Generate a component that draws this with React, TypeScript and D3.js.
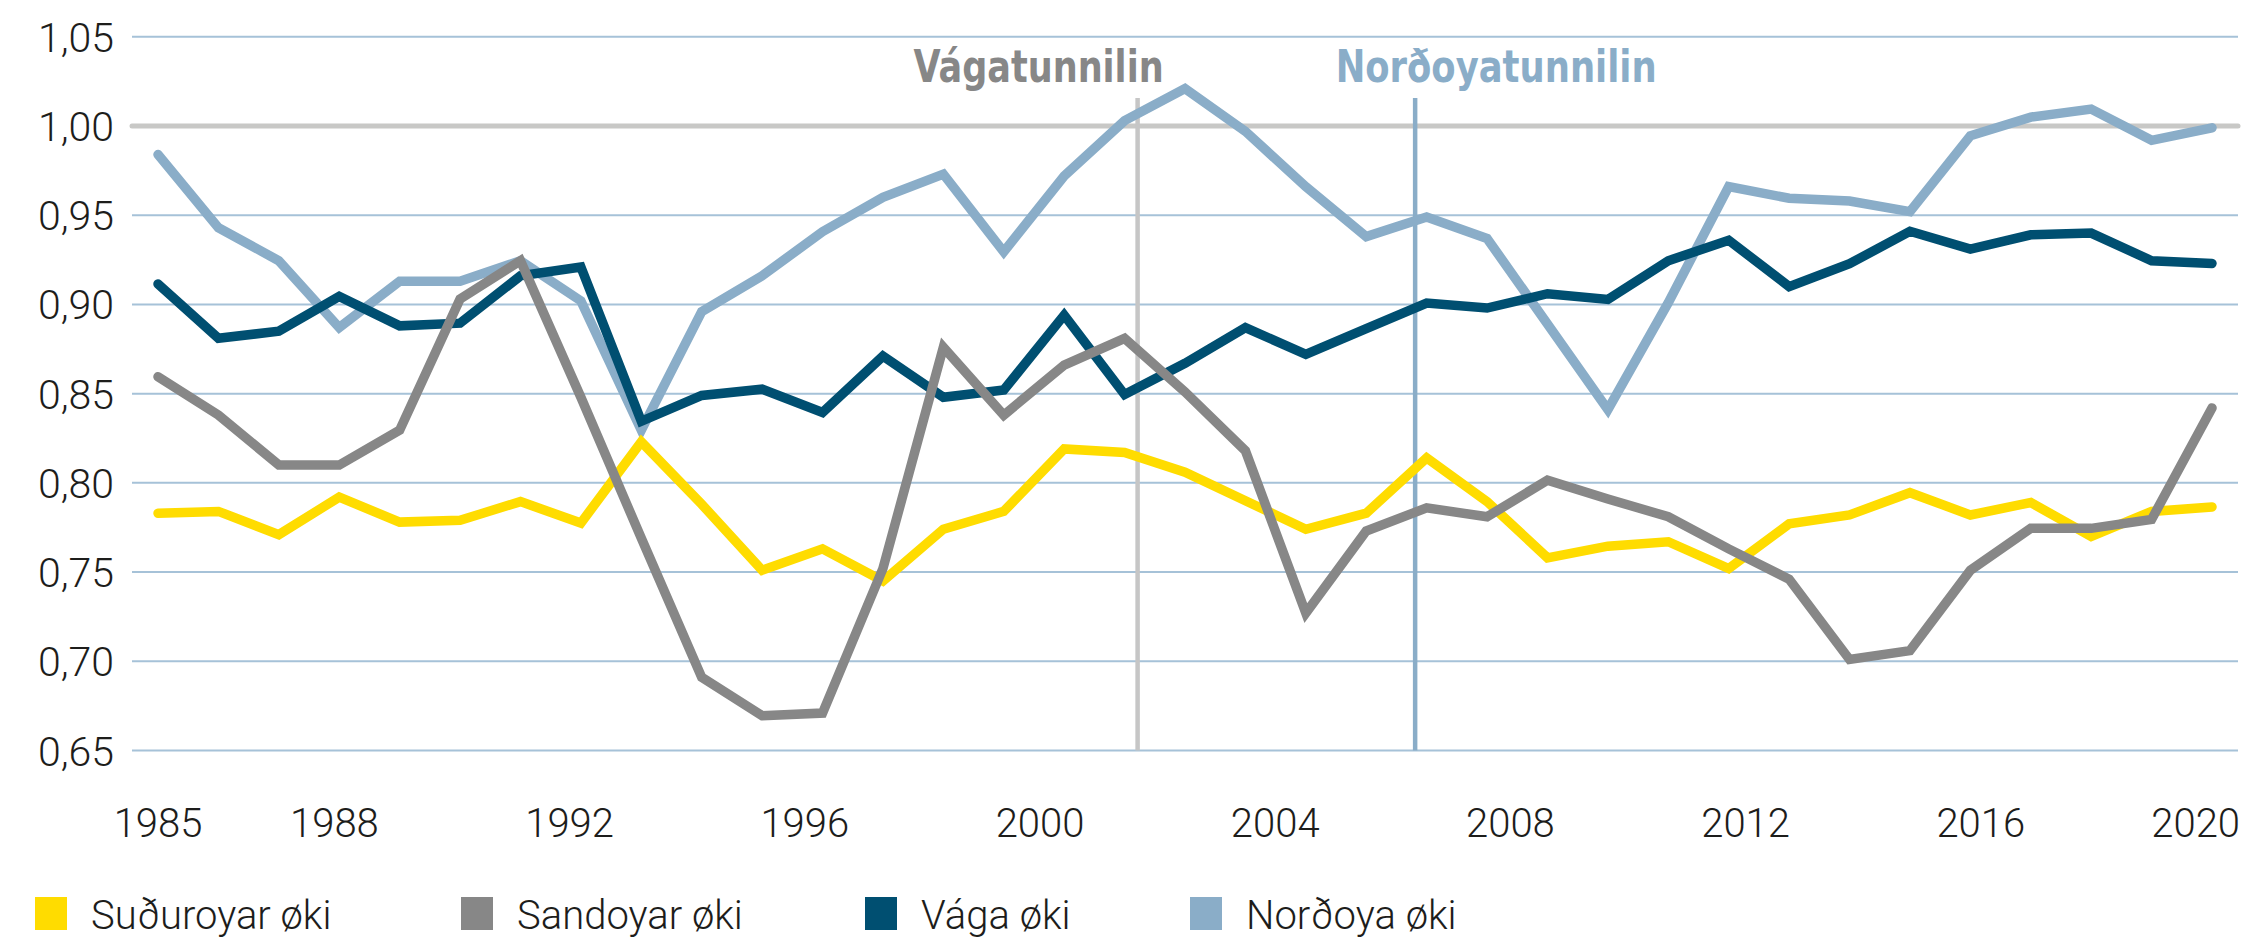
import React, { useEffect } from "react";
import * as d3 from "d3";

const years = [1985, 1986, 1987, 1988, 1989, 1990, 1991, 1992, 1993, 1994, 1995, 1996, 1997, 1998, 1999, 2000, 2001, 2002, 2003, 2004, 2005, 2006, 2007, 2008, 2009, 2010, 2011, 2012, 2013, 2014, 2015, 2016, 2017, 2018, 2019];

const suduroy = [0.783, 0.784, 0.771, 0.792, 0.778, 0.779, 0.7895, 0.7775, 0.823, 0.788, 0.751, 0.763, 0.745, 0.774, 0.784, 0.819, 0.817, 0.806, 0.79, 0.774, 0.783, 0.814, 0.7895, 0.758, 0.7645, 0.767, 0.752, 0.777, 0.782, 0.7945, 0.782, 0.789, 0.77, 0.784, 0.7865];
const sandoy = [0.8595, 0.838, 0.81, 0.81, 0.8295, 0.903, 0.9245, 0.848, 0.769, 0.691, 0.6695, 0.671, 0.752, 0.876, 0.838, 0.866, 0.881, 0.851, 0.818, 0.727, 0.773, 0.786, 0.781, 0.8015, 0.791, 0.781, 0.763, 0.746, 0.701, 0.706, 0.751, 0.7745, 0.7745, 0.7795, 0.842];
const vaga = [0.9115, 0.881, 0.885, 0.9045, 0.888, 0.8895, 0.916, 0.921, 0.8345, 0.849, 0.8525, 0.8395, 0.871, 0.848, 0.852, 0.894, 0.8495, 0.867, 0.887, 0.872, 0.8865, 0.9008, 0.898, 0.906, 0.9028, 0.9245, 0.936, 0.91, 0.9228, 0.941, 0.931, 0.939, 0.94, 0.9245, 0.923];
const nordoy = [0.984, 0.943, 0.9245, 0.887, 0.913, 0.913, 0.9245, 0.902, 0.8295, 0.896, 0.916, 0.9408, 0.96, 0.973, 0.9295, 0.972, 1.003, 1.021, 0.997, 0.966, 0.938, 0.949, 0.937, 0.889, 0.841, 0.901, 0.966, 0.9595, 0.958, 0.952, 0.9945, 1.005, 1.0095, 0.992, 0.999];

const seriesNames = ["Suðuroyar øki", "Sandoyar øki", "Vága øki", "Norðoya øki"];
const seriesColors = ["#FFDC00", "#878787", "#004F71", "#8AADC8"];
const seriesValues = [suduroy, sandoy, vaga, nordoy];
const drawOrder = [3, 2, 0, 1];

const xTickYears = [1985, 1988, 1992, 1996, 2000, 2004, 2008, 2012, 2016, 2020];
const yTickValues = [0.65, 0.7, 0.75, 0.8, 0.85, 0.9, 0.95, 1.0, 1.05];

const markerNames = ["Vágatunnilin", "Norðoyatunnilin"];
const markerYears = [2001.66, 2006.38];
const markerColors = ["#C6C6C6", "#8AADC8"];
const markerTextColors = ["#878787", "#8AADC8"];
const markerLabelOffsets = [-99, 81];
const markerLabelWidths = [250, 321];

const W = 2245;
const H = 940;
const FONT = "Roboto, 'Noto Sans', 'DejaVu Sans', sans-serif";
const NARROW = "'Liberation Sans Narrow', 'DejaVu Sans Condensed', 'Roboto', sans-serif";

export default function App() {
  useEffect(() => {
    document.body.style.margin = "0";
    document.body.style.overflow = "hidden";
  }, []);

  const xData = d3.scalePoint<number>().domain(years).range([158, 2212]);
  const xTick = d3.scaleLinear().domain([1985, 2020]).range([158, 2216]);
  const y = d3.scaleLinear().domain([0.65, 1.05]).range([750.5, 36.8]);

  const gridX0 = 132;
  const gridX1 = 2238;

  const line = d3
    .line<number>()
    .x((_, i) => xData(years[i]) as number)
    .y((d) => y(d));

  const legendX = [35, 461, 865, 1190];

  return (
    <svg width={W} height={H} style={{ position: "absolute", left: 0, top: 0, background: "#fff" }}>
      <rect x={0} y={0} width={W} height={H} fill="#fff" />
      {yTickValues.map((v) =>
        Math.abs(v - 1) < 1e-9 ? null : (
          <line key={"g" + v} x1={gridX0} x2={gridX1} y1={y(v)} y2={y(v)} stroke="#A6C2D8" strokeWidth={2} />
        )
      )}
      <line x1={gridX0} x2={gridX1} y1={y(1)} y2={y(1)} stroke="#C8C8C6" strokeWidth={5} strokeLinecap="round" />
      {yTickValues.map((v) => (
        <text
          key={"yt" + v}
          x={114}
          y={y(v) + 15}
          textAnchor="end"
          fontFamily={FONT}
          fontWeight={300}
          fontSize={41}
          fill="#1d1d1b"
        >
          {d3.format(".2f")(v).replace(".", ",")}
        </text>
      ))}
      {xTickYears.map((t, i) => {
        const last = i === xTickYears.length - 1;
        return (
          <text
            key={"xt" + t}
            x={last ? 2240 : xTick(t)}
            y={837}
            textAnchor={last ? "end" : "middle"}
            fontFamily={FONT}
            fontWeight={300}
            fontSize={40}
            fill="#1d1d1b"
          >
            {t}
          </text>
        );
      })}
      {markerYears.map((m, i) => (
        <line
          key={"m" + i}
          x1={xTick(m)}
          x2={xTick(m)}
          y1={98}
          y2={y(0.65)}
          stroke={markerColors[i]}
          strokeWidth={4.5}
        />
      ))}
      {markerYears.map((m, i) => (
        <text
          key={"mt" + i}
          x={xTick(m) + markerLabelOffsets[i]}
          y={82}
          textAnchor="middle"
          fontFamily={NARROW}
          fontWeight={700}
          fontSize={45}
          fill={markerTextColors[i]}
          textLength={markerLabelWidths[i]}
          lengthAdjust="spacingAndGlyphs"
        >
          {markerNames[i]}
        </text>
      ))}
      {drawOrder.map((si) => (
        <path
          key={"s" + si}
          d={line(seriesValues[si]) || ""}
          fill="none"
          stroke={seriesColors[si]}
          strokeWidth={9.5}
          strokeLinejoin="miter"
          strokeMiterlimit={10}
          strokeLinecap="round"
        />
      ))}
      {seriesNames.map((n, i) => (
        <g key={"l" + i}>
          <rect x={legendX[i]} y={897} width={32} height={33} fill={seriesColors[i]} />
          <text x={legendX[i] + 56} y={929} fontFamily={FONT} fontWeight={300} fontSize={40} fill="#1d1d1b">
            {n}
          </text>
        </g>
      ))}
    </svg>
  );
}
